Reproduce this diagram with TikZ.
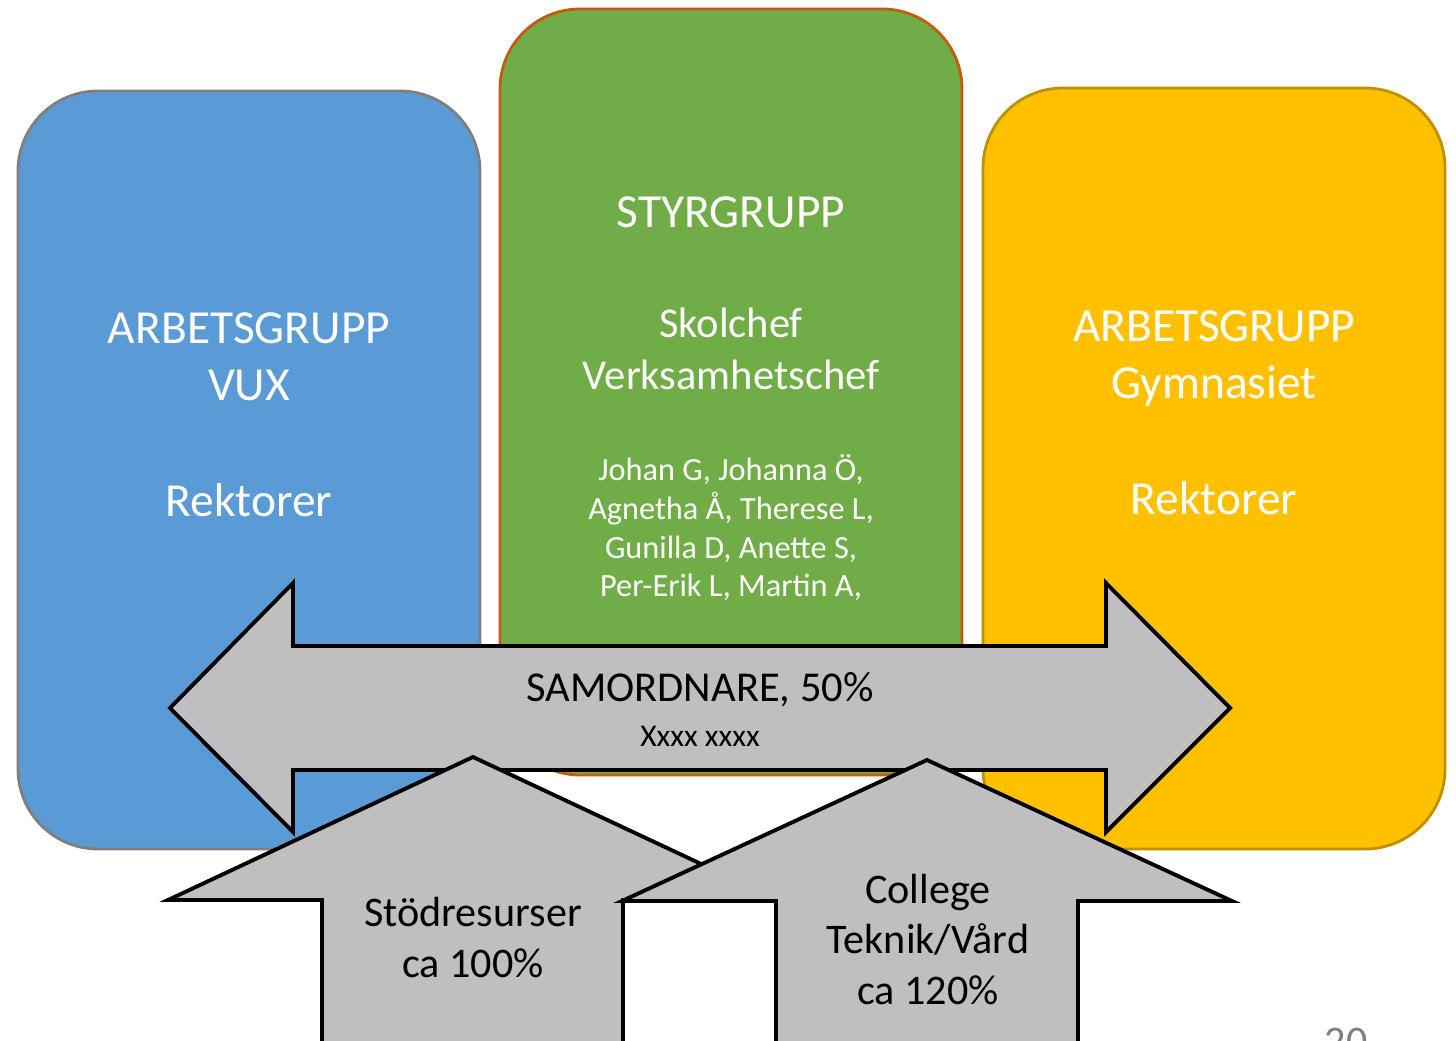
\documentclass[tikz,border=0pt]{standalone}
\usepackage{fontspec}
\setmainfont{Carlito}
\definecolor{vuxblue}{HTML}{5B9BD5}
\definecolor{vuxline}{HTML}{7F7F7F}
\definecolor{styrgreen}{HTML}{70AD47}
\definecolor{styrline}{HTML}{C55A11}
\definecolor{gymyellow}{HTML}{FFC000}
\definecolor{gymline}{HTML}{BF9000}
\definecolor{arrowgray}{HTML}{BFBFBF}
\tikzset{
    groupbox/.style={rounded corners=0.8cm, line width=0.8pt,
        minimum width=4.62cm, minimum height=7.6cm},
    blockarrow/.style={draw=black, fill=arrowgray, line width=1.1pt},
    whitetext/.style={text=white, align=center, font=\fontsize{13.5}{16.2}\selectfont},
    nametext/.style={text=white, align=center, font=\fontsize{9.2}{11}\selectfont},
    arrowtext/.style={text=black, align=center, font=\fontsize{12}{14.5}\selectfont}
}
\begin{document}
\begin{tikzpicture}
\useasboundingbox (0,0) rectangle (14.56,-10.4);
\node[groupbox, draw=vuxline, fill=vuxblue, minimum height=7.58cm] (vux) at (2.49,-4.70) {};
\node[groupbox, draw=styrline, fill=styrgreen, minimum height=7.66cm] (styr) at (7.31,-3.92) {};
\node[groupbox, draw=gymline, fill=gymyellow, minimum height=7.61cm] (gym) at (12.14,-4.685) {};

\node[whitetext] (vuxhead) at (2.49,-3.565) {ARBETSGRUPP\\VUX};
\node[whitetext] (vuxrekt) at (2.49,-5.00) {Rektorer};
\node[whitetext] (styrhead) at (7.31,-2.12) {STYRGRUPP};
\node[whitetext, font=\fontsize{12.1}{14.8}\selectfont] (styrchef) at (7.31,-3.49) {Skolchef\\Verksamhetschef};
\node[nametext] (styrnames) at (7.31,-5.28)
  {Johan G, Johanna Ö,\\Agnetha Å, Therese L,\\Gunilla D, Anette S,\\Per-Erik L, Martin A,};
\node[whitetext] (gymhead) at (12.14,-3.585) {ARBETSGRUPP\\Gymnasiet};
\node[whitetext] (gymrekt) at (12.14,-4.98) {Rektorer};

\draw[style={blockarrow}]
  (1.70,-7.08) -- (2.93,-5.83) -- (2.93,-6.46) -- (11.06,-6.46) -- (11.06,-5.83)
  -- (12.30,-7.08) -- (11.06,-8.32) -- (11.06,-7.70) -- (2.93,-7.70) -- (2.93,-8.32) -- cycle;
\node[arrowtext, font=\fontsize{12.1}{15}\selectfont] (samord) at (7.00,-6.90) {SAMORDNARE, 50\%};
\node[arrowtext, font=\fontsize{9}{11}\selectfont] (samname) at (7.00,-7.36) {Xxxx xxxx};

\draw[style={blockarrow}]
  (4.73,-7.57) -- (7.78,-9.00) -- (6.23,-9.00) -- (6.23,-10.6) -- (3.22,-10.6)
  -- (3.22,-9.00) -- (1.68,-9.00) -- cycle;
\node[arrowtext] (stod) at (4.73,-9.375) {Stödresurser\\ca 100\%};

\draw[style={blockarrow}]
  (9.27,-7.60) -- (12.32,-9.01) -- (10.78,-9.01) -- (10.78,-10.6) -- (7.76,-10.6)
  -- (7.76,-9.01) -- (6.22,-9.01) -- cycle;
\node[arrowtext] (college) at (9.28,-9.395) {College\\Teknik/Vård\\ca 120\%};

\node[text=gray, inner sep=0pt, anchor=north, font=\fontsize{12}{14}\selectfont] (pagenum) at (13.46,-10.27) {20};
\end{tikzpicture}
\end{document}
